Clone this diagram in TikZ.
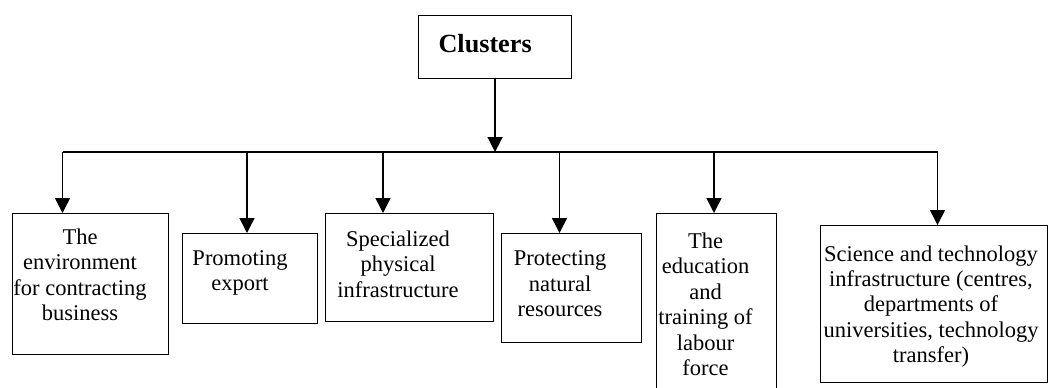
\documentclass[tikz,border=0pt]{standalone}
\usepackage{fontspec}
\setmainfont{Liberation Serif}
\usetikzlibrary{arrows.meta}
\usetikzlibrary{positioning}
\tikzset {
  tree path/.style = {
    draw = black,
    line width = 0.75pt
  },
  % path style with a filled arrow at its end
  arr/.style = {
    tree path,
    -{Triangle[length = 7.5pt, width = 7.5pt]}
  },
  % path style with no arrows
  narr/.style = {
    tree path
  }
}
\tikzset {
  tree node/.style = {
    draw = black,
    line width = 0.55pt,
    rectangle,
    inner sep = 0
  },
  % top box
  root/.style = {
    tree node,
    anchor = north west,
    minimum height = 31.5pt,
    text width = 56.5pt,
    text depth = 3.3pt,
    inner xsep = 10pt,
    align = left,
    font = \fontsize{13.1pt}{15pt}\selectfont\bfseries
  },
  % frame of a cluster box
  leaf/.style = {
    tree node,
    anchor = north west
  },
  % text in a cluster box
  leaf text/.style = {
    anchor = north,
    align = center,
    inner sep = 0,
    font = \fontsize{11.25pt}{12.7pt}\selectfont
  }
}

\begin{document}
\begin{tikzpicture}[x = 0.5pt, y = -0.5pt]
    \clip (0,0) rectangle (1049,387);
    \node[root] (clusters) at (418,15) {Clusters};

    \node[leaf, minimum width = 78pt, minimum height = 70.5pt] (environment) at (12,213) {};
    \node[leaf text] (environment-text) at (80,228.5) {The\\environment\\for contracting\\business};
    \node[leaf, minimum width = 67.5pt, minimum height = 45pt] (export) at (182,233) {};
    \node[leaf text] (export-text) at (240,250) {Promoting\\export};
    \node[leaf, minimum width = 84pt, minimum height = 54pt] (physical) at (325,213) {};
    \node[leaf text] (physical-text) at (398,230.5) {Specialized\\physical\\infrastructure};
    \node[leaf, minimum width = 70pt, minimum height = 54.5pt] (natural) at (501,233) {};
    \node[leaf text] (natural-text) at (560,250.5) {Protecting\\natural\\resources};
    \node[leaf, minimum width = 60pt, minimum height = 92pt] (labour) at (656,213) {};
    \node[leaf text] (labour-text) at (705.5,232.5) {The\\education\\and\\training of\\labour\\force};
    \node[leaf, minimum width = 113.5pt, minimum height = 78.5pt] (science) at (820,225) {};
    \node[leaf text] (science-text) at (931,245) {Science and technology\\infrastructure (centres,\\departments of\\universities, technology\\transfer)};

    \coordinate (bus-environment) at (62.5,152);
    \coordinate (bus-export) at (247,152);
    \coordinate (bus-physical) at (383,152);
    \coordinate (bus-natural) at (559.5,152);
    \coordinate (bus-labour) at (714,152);
    \coordinate (bus-science) at (937.5,152);

    \draw[narr] (bus-environment) -- (bus-science);
    \draw[arr] (clusters.south) -- (clusters.south |- bus-environment);
    \draw[arr] (bus-environment) -- (bus-environment |- environment.north);
    \draw[arr] (bus-export) -- (bus-export |- export.north);
    \draw[arr] (bus-physical) -- (bus-physical |- physical.north);
    \draw[arr] (bus-natural) -- (bus-natural |- natural.north);
    \draw[arr] (bus-labour) -- (bus-labour |- labour.north);
    \draw[arr] (bus-science) -- (bus-science |- science.north);
  \end{tikzpicture}
\end{document}
